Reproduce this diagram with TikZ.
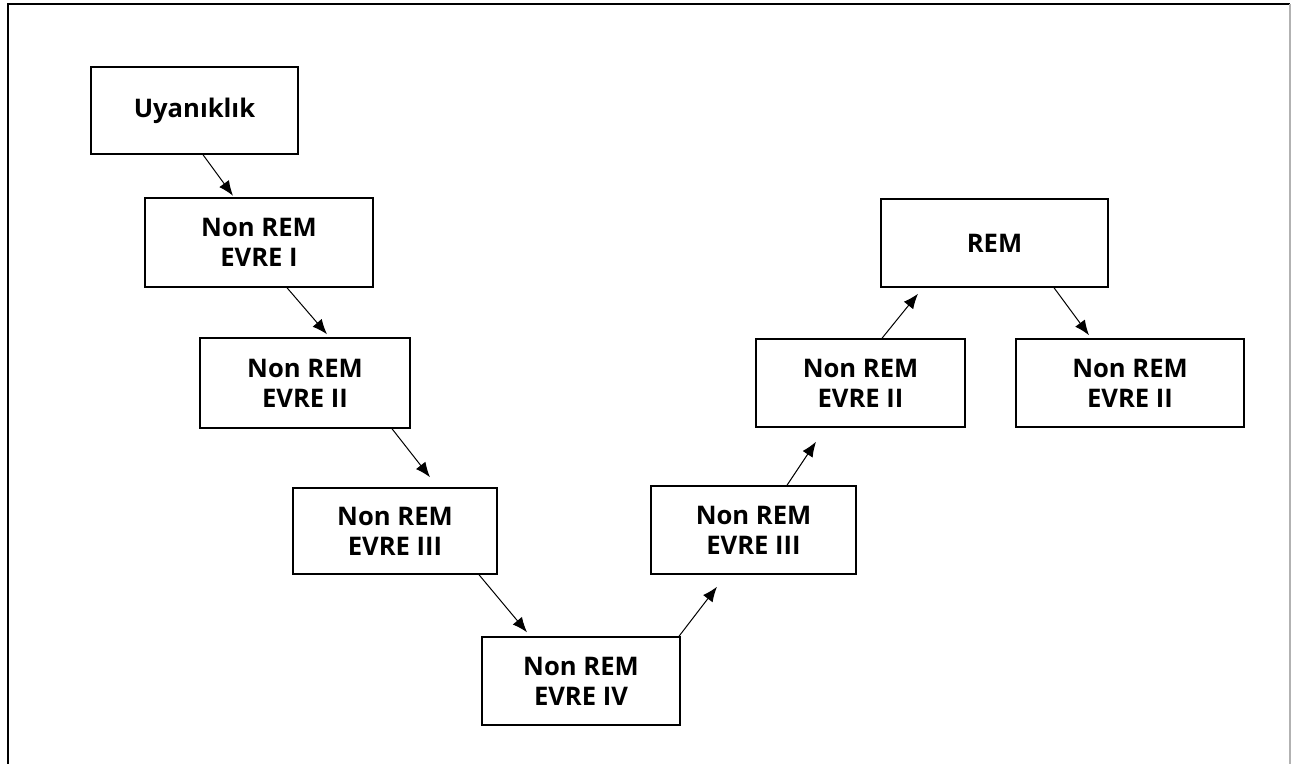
\documentclass[tikz,border=0pt]{standalone}
\usepackage{fontspec}
\setmainfont{Open Sans}
\usetikzlibrary{arrows.meta,calc}
\begin{document}
\begin{tikzpicture}[x={(0.5pt,0)},y={(0,-0.5pt)},
  stagebox/.style={draw=black,line width=0.75pt,fill=white,inner sep=0pt,
    font=\fontsize{12.8}{15}\selectfont\bfseries,align=center},
  arr/.style={line width=0.5pt,-{Latex[length=7.5pt,width=6pt]}}]
\useasboundingbox (0,0) rectangle (1291,764);
\draw[line width=1pt] (8,764) -- (8,4) -- (1290,4);
\draw[line width=0.8pt,gray!60] (1290,4) -- (1290,764);
\node[stagebox,minimum width=103.5pt,minimum height=43.5pt] (n1) at (194.5,110.5) {Uyanıklık};
\node[stagebox,minimum width=114pt,minimum height=44.5pt] (n2) at (259,242.5) {Non REM\\EVRE I};
\node[stagebox,minimum width=105pt,minimum height=45pt] (n3) at (305,383) {Non REM\\EVRE II};
\node[stagebox,minimum width=102pt,minimum height=43pt] (n4) at (395,531) {Non REM\\EVRE III};
\node[stagebox,minimum width=99pt,minimum height=44pt] (n5) at (581,681) {Non REM\\EVRE IV};
\node[stagebox,minimum width=102.5pt,minimum height=44pt] (n6) at (753.5,530) {Non REM\\EVRE III};
\node[stagebox,minimum width=104.5pt,minimum height=44pt] (n7) at (860.5,383) {Non REM\\EVRE II};
\node[stagebox,minimum width=113.5pt,minimum height=44pt] (n8) at (994.5,243) {REM};
\node[stagebox,minimum width=114pt,minimum height=44pt] (n9) at (1130,383) {Non REM\\EVRE II};
\draw[arr] ([shift={(8.5,0)}]n1.south) -- ([shift={(-26,-1.5)}]n2.north);
\draw[arr] ([shift={(28,0)}]n2.south) -- ([shift={(22,-3)}]n3.north);
\draw[arr] ([shift={(87,0)}]n3.south) -- ([shift={(35,-10)}]n4.north);
\draw[arr] ([shift={(84,0)}]n4.south) -- ([shift={(-54,-4)}]n5.north);
\draw[arr] ([shift={(98,0)}]n5.north) -- ([shift={(-36.5,12)}]n6.south);
\draw[arr] ([shift={(33.5,0)}]n6.north) -- ([shift={(-44.5,14)}]n7.south);
\draw[arr] ([shift={(21.5,0)}]n7.north) -- ([shift={(-76.5,6)}]n8.south);
\draw[arr] ([shift={(59.5,0)}]n8.south) -- ([shift={(-41,-3)}]n9.north);
\end{tikzpicture}
\end{document}
